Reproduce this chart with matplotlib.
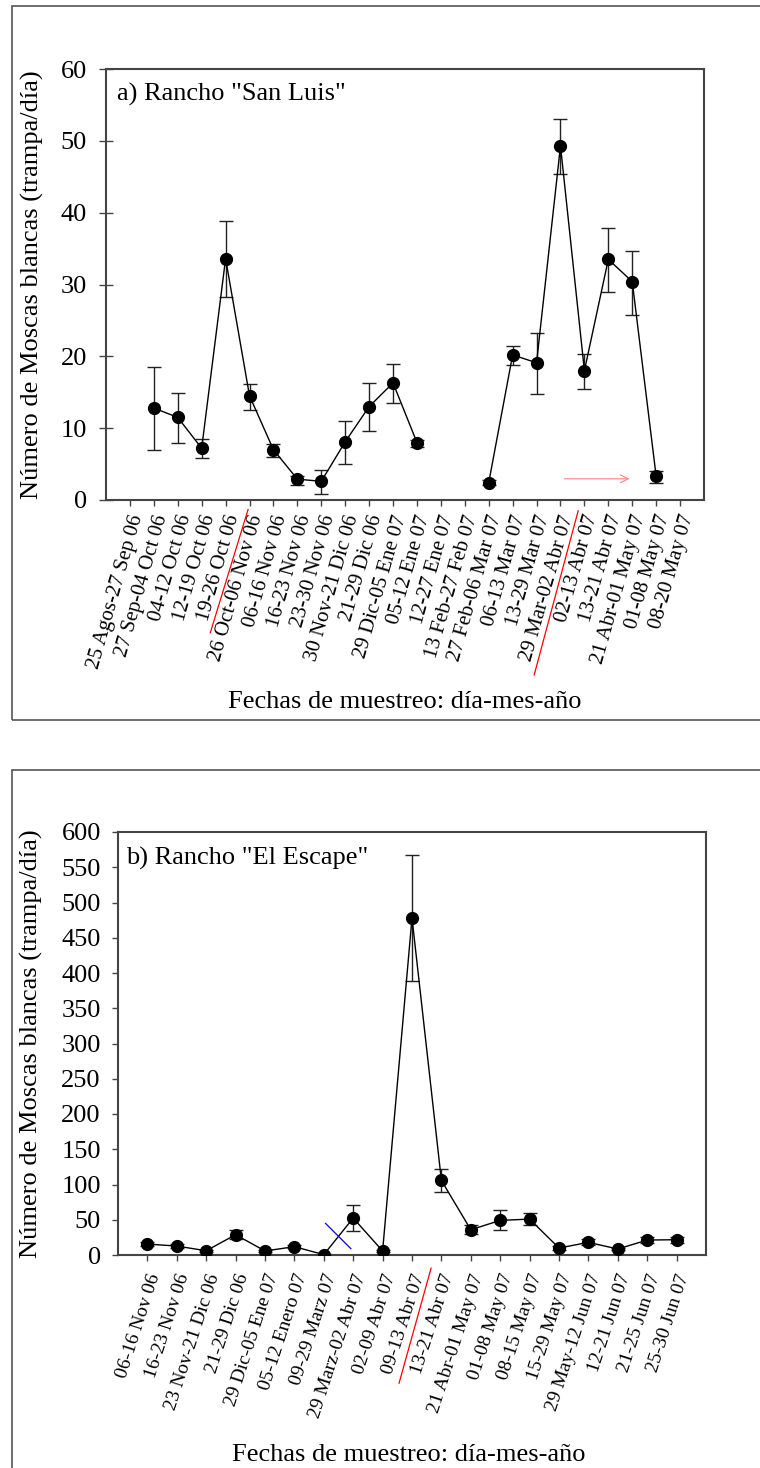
import numpy as np
import matplotlib
matplotlib.use("Agg")
import matplotlib.pyplot as plt
from matplotlib.patches import Rectangle
from matplotlib.lines import Line2D
import matplotlib.transforms as mtransforms

plt.rcParams['font.family'] = ['Liberation Serif', 'DejaVu Serif']

# ---------------- Data: panel a) Rancho "San Luis" ----------------
labels_a = ["25 Agos-27 Sep 06", "27 Sep-04 Oct 06", "04-12 Oct 06", "12-19 Oct 06",
            "19-26 Oct 06", "26 Oct-06 Nov 06", "06-16 Nov 06", "16-23 Nov 06",
            "23-30 Nov 06", "30 Nov-21 Dic 06", "21-29 Dic 06", "29 Dic-05 Ene 07",
            "05-12 Ene 07", "12-27 Ene 07", "13 Feb-27 Feb 07", "27 Feb-06 Mar 07",
            "06-13 Mar 07", "13-29 Mar 07", "29 Mar-02 Abr 07", "02-13 Abr 07",
            "13-21 Abr 07", "21 Abr-01 May 07", "01-08 May 07", "08-20 May 07"]
nan = np.nan
mean_a = [nan, 12.8, 11.5, 7.2, 33.6, 14.5, 7.0, 2.9, 2.6, 8.1, 13.0, 16.3,
          8.0, nan, nan, 2.4, 20.2, 19.1, 49.3, 18.0, 33.5, 30.4, 3.3, nan]
low_a = [nan, 6.9, 7.9, 5.8, 28.3, 12.5, 6.0, 2.1, 0.8, 5.0, 9.6, 13.5,
         7.4, nan, nan, 2.1, 18.8, 14.8, 45.4, 15.4, 29.0, 25.8, 2.4, nan]
high_a = [nan, 18.5, 14.9, 8.5, 38.8, 16.2, 7.8, 3.4, 4.2, 11.0, 16.3, 19.0,
          8.3, nan, nan, 2.8, 21.5, 23.2, 53.0, 20.3, 37.8, 34.7, 4.0, nan]
yticks_a = [0, 10, 20, 30, 40, 50, 60]

# ---------------- Data: panel b) Rancho "El Escape" ----------------
labels_b = ["06-16 Nov 06", "16-23 Nov 06", "23 Nov-21 Dic 06", "21-29 Dic 06",
            "29 Dic-05 Ene 07", "05-12 Enero 07", "09-29 Marz 07", "29 Marz-02 Abr 07",
            "02-09 Abr 07", "09-13 Abr 07", "13-21 Abr 07", "21 Abr-01 May 07",
            "01-08 May 07", "08-15 May 07", "15-29 May 07", "29 May-12 Jun 07",
            "12-21 Jun 07", "21-25 Jun 07", "25-30 Jun 07"]
mean_b = [15.5, 12.7, 6.0, 28.8, 5.7, 11.8, 0.5, 52.4, 5.7, 478.0, 105.7,
          35.8, 49.1, 50.9, 9.9, 17.9, 8.5, 21.2, 21.7]
low_b = [12.5, 10.0, 4.5, 23.0, 4.2, 9.5, 0.0, 34.0, 4.2, 388.3, 88.7,
         29.7, 34.9, 42.0, 7.0, 13.5, 6.5, 17.0, 17.5]
high_b = [18.5, 15.5, 7.5, 35.0, 7.2, 14.0, 1.0, 70.8, 7.2, 567.7, 122.6,
          42.0, 63.2, 59.4, 12.8, 22.3, 10.5, 25.5, 26.0]
yticks_b = list(range(0, 601, 50))

SPINE = '#444444'
W, H = 760, 1468
fig = plt.figure(figsize=(W / 100, H / 100), dpi=100)

# outer frames
fig.patches.append(Rectangle((12 / W, 1 - 720 / H), 1.2, (720 - 6) / H,
                             transform=fig.transFigure, fill=False,
                             edgecolor='#555555', lw=1.2))
fig.patches.append(Rectangle((12 / W, -0.2), 1.2, 0.2 + (1 - 770 / H),
                             transform=fig.transFigure, fill=False,
                             edgecolor='#555555', lw=1.2))

ax1 = fig.add_axes([106 / W, 1 - 500 / H, 598 / W, 431 / H])
ax2 = fig.add_axes([118 / W, 1 - 1255 / H, 588 / W, 423 / H])


def draw(ax, labels, mean, low, high, yticks, xfs, rot, ytick_dir, ytick_len,
         ypad, shift):
    x = np.arange(len(labels))
    mean = np.array(mean, float)
    lo = mean - np.array(low, float)
    hi = np.array(high, float) - mean
    ax.plot(x, mean, color='black', lw=1.0, zorder=3)
    ax.errorbar(x, mean, yerr=[lo, hi], fmt='none', ecolor='#222222',
                elinewidth=1.0, capsize=4.7, capthick=1.0, zorder=2)
    ax.plot(x, mean, 'o', color='black', ms=8.5, zorder=4)
    ax.set_xlim(-1, len(labels))
    ax.set_ylim(yticks[0], yticks[-1])
    ax.set_yticks(yticks)
    ax.set_xticks(x)
    ax.set_xticklabels(labels, rotation=rot, ha='right', va='center',
                       rotation_mode='anchor', fontsize=xfs)
    ax.tick_params(axis='x', direction='out', length=4.5, width=1.0,
                   color=SPINE, pad=5)
    ax.tick_params(axis='y', direction=ytick_dir, length=ytick_len, width=1.0,
                   color=SPINE, labelsize=19, pad=ypad)
    off = mtransforms.ScaledTranslation(shift[0] / 100, shift[1] / 100,
                                        fig.dpi_scale_trans)
    for lab in ax.get_xticklabels():
        lab.set_transform(lab.get_transform() + off)
    for s in ax.spines.values():
        s.set_color(SPINE)
        s.set_linewidth(1.5)


draw(ax1, labels_a, mean_a, low_a, high_a, yticks_a, 15, 74, 'inout', 9.5,
     9, (8, -2))
draw(ax2, labels_b, mean_b, low_b, high_b, yticks_b, 14, 72, 'out', 4,
     8.4, (8, -6))

# panel titles
ax1.text(0.018, 0.942, 'a) Rancho "San Luis"', transform=ax1.transAxes,
         fontsize=19, ha='left', va='center')
ax2.text(0.0136, 0.9385, 'b) Rancho "El Escape"', transform=ax2.transAxes,
         fontsize=19, ha='left', va='center')

# y labels
ylab = 'Número de Moscas blancas (trampa/día)'
fig.text(32 / W, 1 - 285 / H, ylab, rotation=90, fontsize=19,
         ha='center', va='center')
fig.text(31 / W, 1 - 1044 / H, ylab, rotation=90, fontsize=19,
         ha='center', va='center')

# x labels
xlab = 'Fechas de muestreo: día-mes-año'
fig.text(405 / W, 1 - 702 / H, xlab, fontsize=19, ha='center', va='center')
fig.text(409 / W, 1 - 1455 / H, xlab, fontsize=19, ha='center', va='center')

# red separator lines under the axes
t1 = mtransforms.blended_transform_factory(ax1.transData, ax1.transAxes)
ax1.add_line(Line2D([3.36, 4.94], [-0.308, -0.022], transform=t1,
                    color='red', lw=0.9, clip_on=False))
ax1.add_line(Line2D([16.9, 18.74], [-0.406, -0.025], transform=t1,
                    color='red', lw=0.9, clip_on=False))
t2 = mtransforms.blended_transform_factory(ax2.transData, ax2.transAxes)
ax2.add_line(Line2D([8.56, 9.65], [-0.303, -0.031], transform=t2,
                    color='red', lw=0.9, clip_on=False))

# red arrow in panel a
ax1.annotate('', xy=(21.0, 2.95), xytext=(18.05, 2.95),
             arrowprops=dict(arrowstyle='->', color='#ff8080', lw=0.8,
                             mutation_scale=14))

# blue mark in panel b
ax2.add_line(Line2D([6.06, 6.92], [44.8, 9.0], color='blue', lw=0.9, zorder=5))

fig.savefig('out.png', dpi=100)
